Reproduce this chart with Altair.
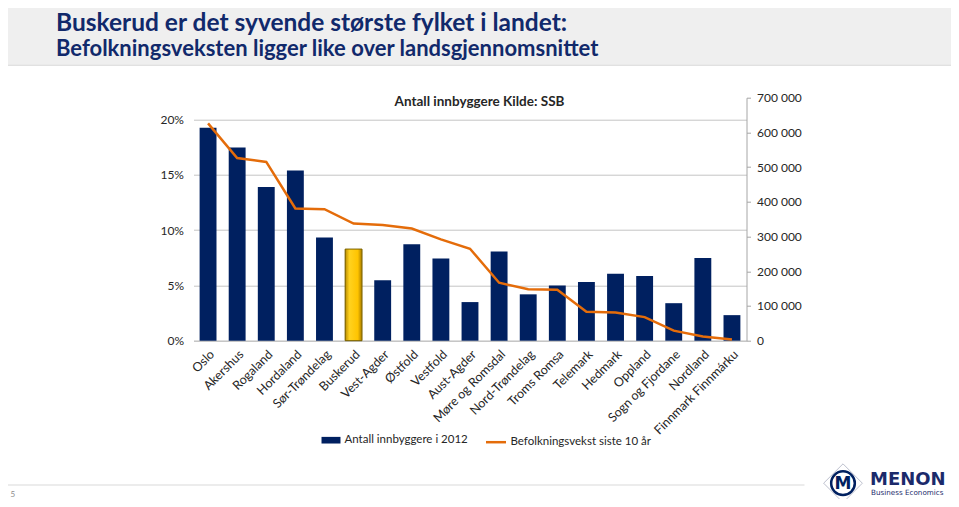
import altair as alt
import pandas as pd

counties = ["Oslo", "Akershus", "Rogaland", "Hordaland", "Sør-Trøndelag", "Buskerud",
            "Vest-Agder", "Østfold", "Vestfold", "Aust-Agder", "Møre og Romsdal",
            "Nord-Trøndelag", "Troms Romsa", "Telemark", "Hedmark", "Oppland",
            "Sogn og Fjordane", "Nordland", "Finnmark Finnmárku"]
bar_values = [0.1924, 0.1747, 0.1390, 0.1538, 0.0933, 0.0828, 0.0546, 0.0871, 0.0742,
              0.0349, 0.0805, 0.0419, 0.0498, 0.0530, 0.0604, 0.0585, 0.0339, 0.0747, 0.0231]
line_values = [626000, 526000, 515000, 381000, 379000, 337500, 333000, 323000, 292000,
               265000, 167000, 148000, 147000, 83500, 81000, 68000, 29000, 12000, 3500]
highlight = "Buskerud"
bar_name = "Antall innbyggere i 2012"
line_name = "Befolkningsvekst siste 10 år"
title_lines = ["Buskerud er det syvende største fylket i landet:",
               "Befolkningsveksten ligger like over landsgjennomsnittet"]
chart_title = ["Antall innbyggere Kilde: SSB"]
left_ticks = [0, 0.05, 0.10, 0.15, 0.20]
right_ticks = [0, 100000, 200000, 300000, 400000, 500000, 600000, 700000]
page_number = ["5"]
logo_texts = ["MENON", "Business Economics"]

df = pd.DataFrame({"fylke": counties, "vekst": bar_values, "innb": line_values,
                   "bar_series": bar_name, "line_series": line_name})

NAVY = "#002060"
ORANGE = "#E46C0A"
TITLE_C = "#11296B"
TXT = "#262626"
FONT = "Lato"

W, H = 553, 243
PL, PT = 185.5, 89.7
TOTW, TOTH = 943, 491

x_enc = alt.X("fylke:N", sort=counties, title=None,
              scale=alt.Scale(paddingInner=0.42, paddingOuter=0.21),
              axis=alt.Axis(labelAngle=-45, labelAlign="right", labelBaseline="top",
                            labelFontSize=12.5, labelColor=TXT, labelFont=FONT,
                            ticks=False, domainColor="#bfbfbf", labelPadding=7,
                            labelOverlap=False))

base = alt.Chart(df)

bars = base.mark_bar().encode(
    x=x_enc,
    y=alt.Y("vekst:Q", title=None,
            scale=alt.Scale(domain=[0, 0.2196], nice=False, zero=True),
            axis=alt.Axis(orient="left", values=left_ticks, format=".0%", grid=True,
                          gridColor="#c4c4c4", gridWidth=1, domain=False, ticks=False,
                          labelPadding=10, labelFontSize=12, labelColor=TXT,
                          labelFont=FONT)),
    color=alt.Color("bar_series:N", scale=alt.Scale(domain=[bar_name], range=[NAVY]),
                    legend=alt.Legend(orient="none", legendX=128, legendY=333,
                                      title=None, symbolType="M-1,-0.35H1V0.35H-1Z",
                                      symbolSize=360, symbolStrokeWidth=0,
                                      labelFontSize=11.5, labelColor=TXT, labelFont=FONT,
                                      labelOffset=4, padding=0)),
)

gold = base.transform_filter(alt.datum.fylke == highlight).mark_bar(
    color=alt.LinearGradient(gradient="linear", x1=0, x2=1, y1=0, y2=0,
                             stops=[alt.GradientStop(offset=0, color="#B98C00"),
                                    alt.GradientStop(offset=0.25, color="#FFD21F"),
                                    alt.GradientStop(offset=0.75, color="#FFC400"),
                                    alt.GradientStop(offset=1, color="#A67C00")]),
    stroke="#7d6400", strokeWidth=1).encode(
    x=alt.X("fylke:N", sort=counties),
    y=alt.Y("vekst:Q"),
)

line = base.mark_line(strokeWidth=2.5).encode(
    x=alt.X("fylke:N", sort=counties),
    y=alt.Y("innb:Q", title=None,
            scale=alt.Scale(domain=[0, 700000], nice=False),
            axis=alt.Axis(orient="right", values=right_ticks, grid=False,
                          domain=True, domainColor="#a6a6a6", ticks=True,
                          tickColor="#a6a6a6", tickSize=4, labelPadding=6,
                          labelFontSize=12, labelColor=TXT, labelFont=FONT,
                          labelExpr="replace(format(datum.value, ','), ',', ' ')")),
    stroke=alt.Stroke("line_series:N", scale=alt.Scale(domain=[line_name], range=[ORANGE]),
                      legend=alt.Legend(orient="none", legendX=291, legendY=333,
                                        title=None, symbolType="stroke",
                                        symbolSize=400, symbolStrokeWidth=2.5,
                                        labelFontSize=11.5, labelColor=TXT, labelFont=FONT,
                                        labelOffset=3, padding=0)),
)

bar_layer = alt.layer(bars, gold)
main = alt.layer(bar_layer, line).resolve_scale(y="independent")

one = pd.DataFrame({"a": [0]})
header_bg = alt.Chart(one).mark_rect(color="#efefef").encode(
    x=alt.value(-PL), x2=alt.value(TOTW - PL), y=alt.value(-PT), y2=alt.value(-33))
header_line = alt.Chart(one).mark_rule(color="#d4d4d4", strokeWidth=1).encode(
    x=alt.value(-PL), x2=alt.value(TOTW - PL), y=alt.value(-32.5))

t1 = alt.Chart(pd.DataFrame({"t": title_lines[:1]})).mark_text(
    align="left", baseline="alphabetic", font=FONT, fontSize=24.5, fontWeight="bold",
    color=TITLE_C).encode(text="t:N", x=alt.value(-137.5), y=alt.value(-66.7))
t2 = alt.Chart(pd.DataFrame({"t": title_lines[1:]})).mark_text(
    align="left", baseline="alphabetic", font=FONT, fontSize=22, fontWeight="bold",
    color=TITLE_C).encode(text="t:N", x=alt.value(-137.5), y=alt.value(-41.7))

ctitle = alt.Chart(pd.DataFrame({"t": chart_title})).mark_text(
    align="center", baseline="alphabetic", font=FONT, fontSize=13.5, fontWeight="bold",
    color=TXT).encode(text="t:N", x=alt.value(286), y=alt.value(8.5))

footer_line = alt.Chart(one).mark_rule(color="#d9d9d9", strokeWidth=1).encode(
    x=alt.value(-PL), x2=alt.value(611), y=alt.value(387.3))
pnum = alt.Chart(pd.DataFrame({"t": page_number})).mark_text(
    align="left", baseline="alphabetic", fontSize=8, color="#8c8c8c",
    font=FONT).encode(text="t:N", x=alt.value(-183), y=alt.value(399))

diamond = alt.Chart(one).mark_point(shape="diamond", size=1500, filled=False,
                                    color="#8a8fa8", strokeWidth=0.8).encode(
    x=alt.value(649.5), y=alt.value(385.5))
ring = alt.Chart(one).mark_point(shape="circle", size=560, filled=True, fill="white",
                                 stroke=NAVY, strokeWidth=2.5, opacity=1).encode(
    x=alt.value(649.5), y=alt.value(385.5))
mletter = alt.Chart(pd.DataFrame({"t": ["M"]})).mark_text(
    align="center", baseline="middle", font="DejaVu Sans", fontSize=17, fontWeight="bold",
    color=NAVY).encode(text="t:N", x=alt.value(649.5), y=alt.value(386.5))
menon = alt.Chart(pd.DataFrame({"t": logo_texts[:1]})).mark_text(
    align="left", baseline="alphabetic", font="DejaVu Sans", fontSize=18, fontWeight="bold",
    color="#1B2A6B").encode(text="t:N", x=alt.value(676.5), y=alt.value(387.5))
biz = alt.Chart(pd.DataFrame({"t": logo_texts[1:]})).mark_text(
    align="left", baseline="alphabetic", font="DejaVu Sans", fontSize=7.2,
    color="#1B2A6B").encode(text="t:N", x=alt.value(677.5), y=alt.value(397))

chart = alt.layer(
    header_bg, header_line, t1, t2, main, ctitle,
    footer_line, pnum, diamond, ring, mletter, menon, biz,
).resolve_scale(y="independent").properties(
    width=W, height=H,
    autosize=alt.AutoSizeParams(type="none"),
    padding={"left": PL, "top": PT, "right": TOTW - PL - W, "bottom": TOTH - PT - H},
    background="white",
).configure_view(stroke=None)

chart.save("out.html", embed_options={"renderer": "svg", "actions": False})
